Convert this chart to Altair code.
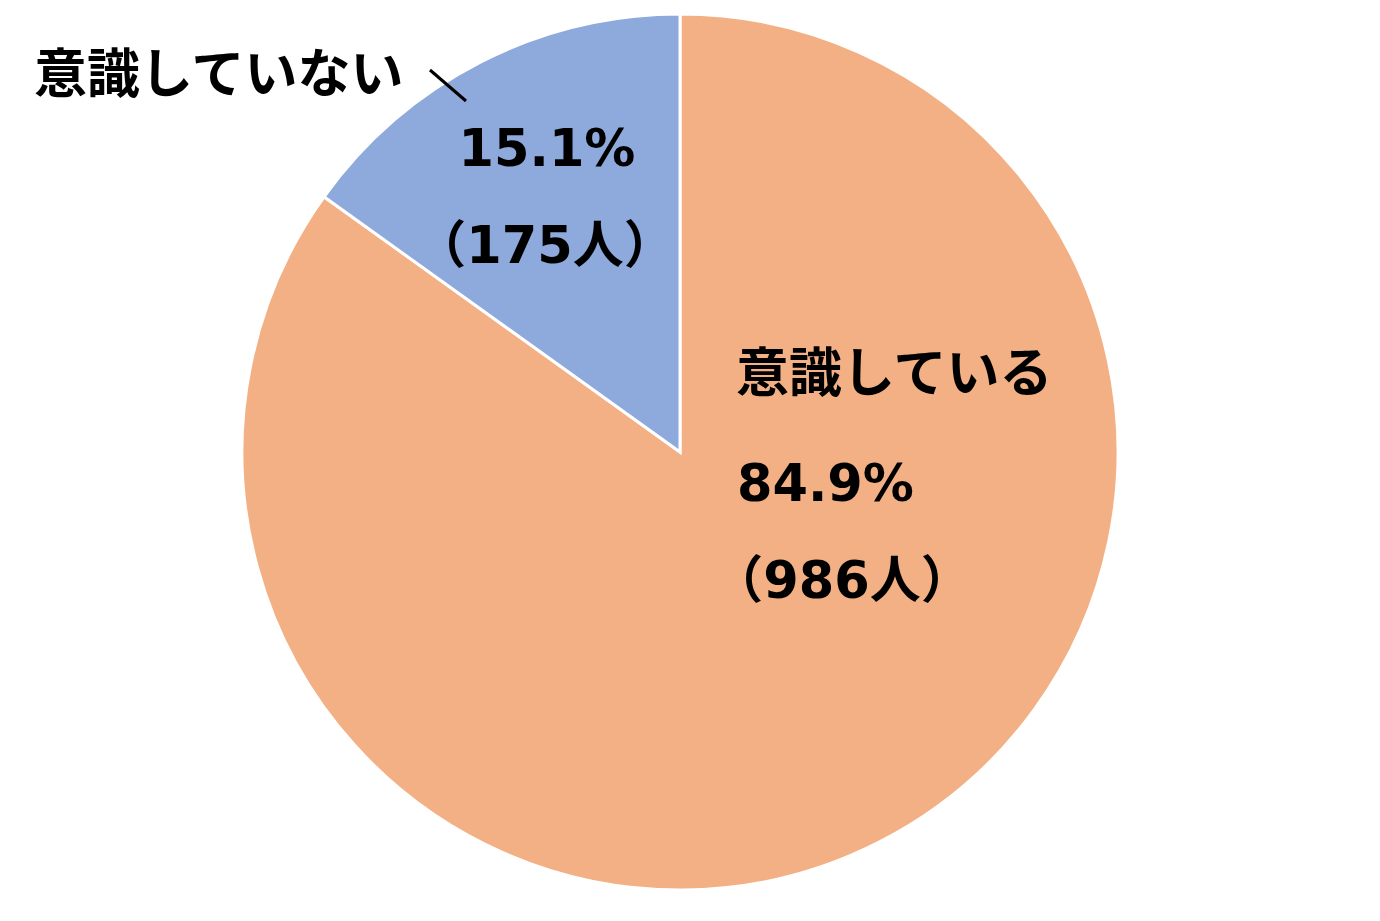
import altair as alt
import pandas as pd

categories = ["意識している", "意識していない"]
percents = [84.9, 15.1]
counts = [986, 175]
colors = ["#F2B084", "#8EA9DB"]

df = pd.DataFrame({
    "category": categories,
    "percent": percents,
    "count": counts,
    "order": [0, 1],
})

W, H = 1364, 900
CX, CY, R = 672, 442, 438
FONT = "DejaVu Sans, Noto Sans CJK JP"
FS = 51
FS_CJK = 53

pie = alt.Chart(df).mark_arc(radius=R, stroke="white", strokeWidth=3).encode(
    theta=alt.Theta("percent:Q", stack=True),
    order=alt.Order("order:Q"),
    color=alt.Color("category:N", scale=alt.Scale(domain=categories, range=colors), legend=None),
    x=alt.value(CX),
    y=alt.value(CY),
)

def label(text, x, y, align="left", size=FS):
    return alt.Chart(pd.DataFrame({"t": [text]})).mark_text(
        font=FONT, fontSize=size, fontWeight="bold", color="#000000",
        align=align, baseline="middle",
    ).encode(text="t:N", x=alt.value(x), y=alt.value(y))

texts = [
    label(categories[1], 26, 67, size=FS_CJK),
    label(f"{percents[1]}%", 539, 141, "center"),
    label(f"（{counts[1]}人）", 537, 238, "center"),
    label(categories[0], 728, 366, size=FS_CJK),
    label(f"{percents[0]}%", 729, 476),
    label(f"（{counts[0]}人）", 834, 573, "center"),
]

leader = alt.Chart(pd.DataFrame({"a": [0]})).mark_rule(color="#000000", strokeWidth=3).encode(
    x=alt.value(422), y=alt.value(60), x2=alt.value(458), y2=alt.value(91)
)

chart = alt.layer(pie, leader, *texts).properties(
    width=W, height=H, padding=0,
).configure(background="white", view=alt.ViewConfig(stroke=None))

chart.save("out.html", embed_options={"renderer": "svg", "actions": False})
